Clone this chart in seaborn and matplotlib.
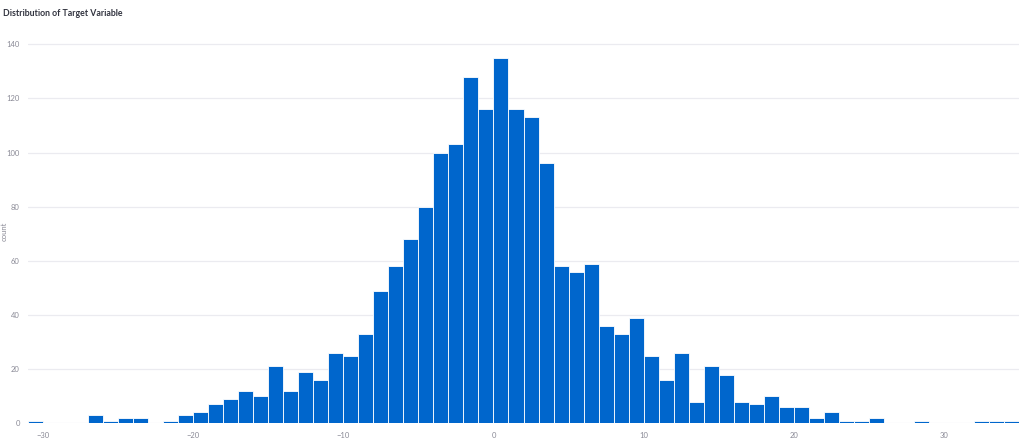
import pandas as pd
import matplotlib
matplotlib.use('Agg')
import matplotlib.pyplot as plt
import seaborn as sns

# bin left edges (width 1) and counts
bin_left = list(range(-31, 35))
counts = [1, 0, 0, 0, 3, 1, 2, 2, 0, 1,
          3, 4, 7, 9, 12, 10, 21, 12, 19, 16,
          26, 25, 33, 49, 58, 68, 80, 100, 103, 128,
          116, 135, 116, 113, 96, 58, 56, 59, 36, 33,
          39, 25, 16, 26, 8, 21, 18, 8, 7, 10,
          6, 6, 2, 4, 1, 1, 2, 0, 0, 1,
          0, 0, 0, 1, 1, 1]
x_ticks = [-30, -20, -10, 0, 10, 20, 30]
y_ticks = [0, 20, 40, 60, 80, 100, 120, 140]

df = pd.DataFrame({'target': [b + 0.5 for b in bin_left], 'n': counts})

sns.set_theme(style='white')
plt.rcParams['font.family'] = ['Lato', 'DejaVu Sans']

fig = plt.figure(figsize=(10.24, 4.4), dpi=100)
ax = fig.add_axes([28 / 1024, 1 - 423.3 / 440, 991 / 1024, (423.3 - 38.6) / 440])

sns.histplot(data=df, x='target', weights='n', binwidth=1, binrange=(-31, 35), ax=ax,
             color='#0066cc', alpha=1, edgecolor='white', linewidth=0.6, zorder=3)

ax.set_xlim(-31, 35)
ax.set_ylim(0, 142.1)
ax.set_xticks(x_ticks)
ax.set_yticks(y_ticks)
ax.set_xticklabels([f'\u2212{abs(t)}' if t < 0 else str(t) for t in x_ticks])
ax.yaxis.grid(True, color='#ebebf0', linewidth=0.9, zorder=0)
ax.xaxis.grid(False)
ax.set_axisbelow(True)
for s in ax.spines.values():
    s.set_visible(False)
ax.tick_params(axis='both', length=0, labelsize=5.5, labelcolor='#8a8a96', pad=6)
ax.set_xlabel('')
ax.set_ylabel('count', fontsize=5.5, color='#8a8a96')
ax.yaxis.set_label_coords(-20 / 991, 0.5)

fig.text(3 / 1024, 1 - 14 / 440, 'Distribution of Target Variable', fontsize=6.3,
         fontweight='bold', color='#31333f', va='center', ha='left')

fig.savefig('out.png', dpi=100, facecolor='white')
